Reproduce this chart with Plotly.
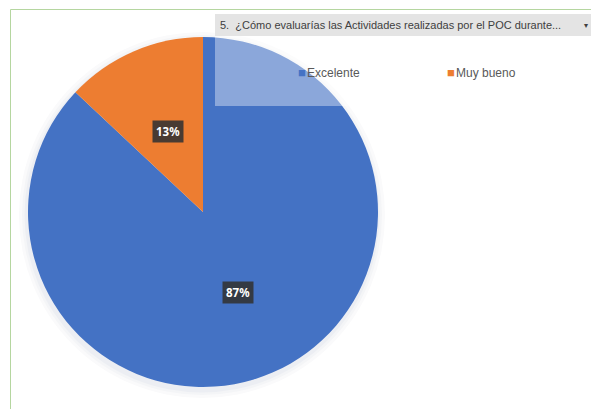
import math
import plotly.graph_objects as go

# Survey answers for question 5
categories = ["Excelente", "Muy bueno"]
values = [87, 13]
colors = ["#4472C4", "#ED7D31"]
question = "5.  ¿Cómo evaluarías las Actividades realizadas por el POC durante..."

W, H = 591, 409
# pie placement in pixels
cx, cy, R = 203, 212, 175

fig = go.Figure()

fig.add_trace(go.Pie(
    labels=categories,
    values=values,
    marker=dict(colors=colors, line=dict(width=0)),
    sort=False,
    direction="clockwise",
    rotation=0,
    textinfo="none",
    hoverinfo="label+percent",
    showlegend=False,
    domain=dict(x=[(cx - R) / W, (cx + R) / W], y=[1 - (cy + R) / H, 1 - (cy - R) / H]),
))

shapes = []
# soft drop shadow behind the pie, offset slightly down-left
for grow, col in [(8, "#fafafb"), (5, "#f4f5f7"), (2.5, "#eceef3")]:
    shapes.append(dict(
        type="circle", xref="paper", yref="paper", layer="below",
        x0=(cx - R - grow - 1) / W, x1=(cx + R + grow - 1) / W,
        y0=1 - (cy + R + grow + 3) / H, y1=1 - (cy - R - grow + 3) / H,
        fillcolor=col, line=dict(width=0),
    ))
# chart frame
shapes.append(dict(
    type="rect", xref="paper", yref="paper", layer="below",
    x0=10.5 / W, x1=(W + 20) / W, y0=-20 / H, y1=1 - 9.5 / H,
    line=dict(color="#b5d6a0", width=1), fillcolor="rgba(0,0,0,0)",
))
# filter header bar
shapes.append(dict(
    type="rect", xref="paper", yref="paper", layer="above",
    x0=215 / W, x1=1, y0=1 - 36 / H, y1=1 - 14 / H,
    fillcolor="#e4e4e4", line=dict(width=0),
))
# translucent legend panel over the pie
shapes.append(dict(
    type="rect", xref="paper", yref="paper", layer="above",
    x0=215 / W, x1=1, y0=1 - 106 / H, y1=1 - 36 / H,
    fillcolor="rgba(255,255,255,0.38)", line=dict(width=0),
))

annotations = []
# percentage labels placed at mid-angle of each slice
total = sum(values)
start = 0.0
for v in values:
    frac = v / total
    mid = (start + frac / 2) * 2 * math.pi
    start += frac
    px = cx + 0.5 * R * math.sin(mid)
    py = cy - 0.5 * R * math.cos(mid)
    annotations.append(dict(
        x=px / W, y=1 - py / H, xref="paper", yref="paper",
        xanchor="center", yanchor="middle",
        text=f"<b>{round(frac * 100)}%</b>", showarrow=False,
        font=dict(family="Noto Sans", size=11.5, color="white"),
        bgcolor="rgba(50,50,50,0.88)", borderpad=3,
    ))

# header text and dropdown arrow
annotations.append(dict(
    x=218 / W, y=1 - 25 / H, xref="paper", yref="paper",
    xanchor="left", yanchor="middle",
    text=question, showarrow=False,
    font=dict(family="Liberation Sans", size=11, color="#404040"),
))
annotations.append(dict(
    x=586 / W, y=1 - 25 / H, xref="paper", yref="paper",
    xanchor="center", yanchor="middle",
    text="▾", showarrow=False,
    font=dict(family="DejaVu Sans", size=8, color="#404040"),
))

# legend entries
legend_x = [296, 445]
for name, col, lx in zip(categories, colors, legend_x):
    annotations.append(dict(
        x=lx / W, y=1 - 72 / H, xref="paper", yref="paper",
        xanchor="left", yanchor="middle",
        text=f"<span style='color:{col};font-size:13px'>■</span><span style='font-size:4px'> </span>{name}",
        showarrow=False,
        font=dict(family="Liberation Sans", size=12, color="#595959"),
    ))

fig.update_layout(
    width=W, height=H,
    margin=dict(l=0, r=0, t=0, b=0),
    paper_bgcolor="white",
    plot_bgcolor="white",
    shapes=shapes,
    annotations=annotations,
)

fig.write_html("out.html")
